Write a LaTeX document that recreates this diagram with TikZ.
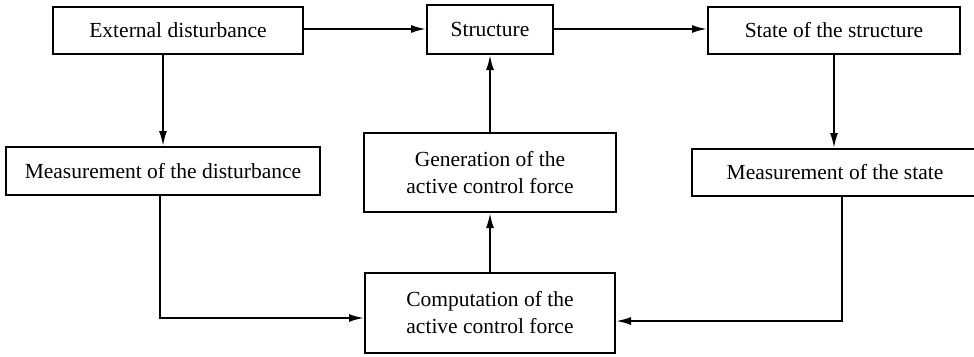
\documentclass[tikz,border=0pt]{standalone}
\usepackage{fontspec}
\setmainfont{Liberation Serif}
\usetikzlibrary{arrows.meta}
\begin{document}
\begin{tikzpicture}[x=1pt,y=-1pt,
  blk/.style={draw,line width=2pt,align=center,inner sep=0pt,font=\fontsize{21.5}{27}\selectfont},
  conn/.style={line width=2pt},
  arr/.style={conn,-{Latex[length=15pt,width=8pt]}}]
\useasboundingbox (0,0) rectangle (974,356);
\node[blk,minimum width=250pt,minimum height=47pt] (ext) at (178,30.5) {External disturbance};
\node[blk,minimum width=126pt,minimum height=49pt] (str) at (490,29.5) {Structure};
\node[blk,minimum width=252pt,minimum height=47pt] (state) at (834,30.5) {State of the structure};
\node[blk,minimum width=314pt,minimum height=48pt] (measD) at (163,171) {Measurement of the disturbance};
\node[blk,minimum width=252pt,minimum height=79pt] (gen) at (490,172.5) {Generation of the\\active control force};
\node[blk,minimum width=286pt,minimum height=47pt] (measS) at (835,172.5) {Measurement of the state};
\node[blk,minimum width=250pt,minimum height=80pt] (comp) at (490,313) {Computation of the\\active control force};
\coordinate (dl) at (160,318);
\coordinate (dr) at (842,321);
\draw[arr] (ext.east |- 0,29) -- (str.west |- 0,29);
\draw[arr] (str.east |- 0,29) -- (state.west |- 0,29);
\draw[arr] (ext.south -| measD) -- (measD.north);
\draw[arr] (state.south) -- (state.south |- measS.north);
\draw[arr] (gen.north) -- (str.south);
\draw[arr] (comp.north) -- (gen.south);
\draw[arr] (measD.south -| dl) |- (comp.west |- dl);
\draw[arr] (measS.south -| dr) |- (comp.east |- dr);
\end{tikzpicture}
\end{document}
